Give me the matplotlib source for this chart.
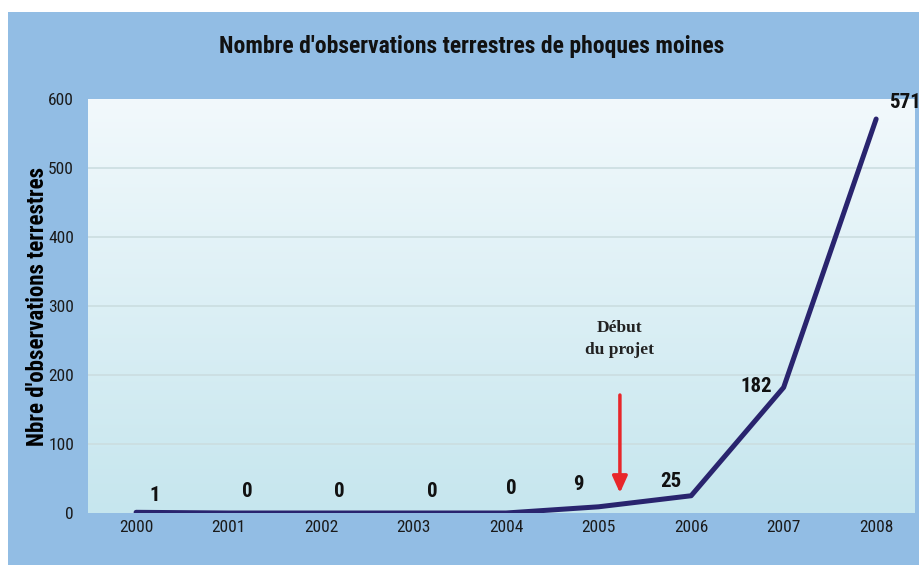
import matplotlib.pyplot as plt
import numpy as np
from matplotlib.patches import Rectangle

years = [2000, 2001, 2002, 2003, 2004, 2005, 2006, 2007, 2008]
counts = [1, 0, 0, 0, 0, 9, 25, 182, 571]
# label offsets in years / count units (labels sit beside the curve)
label_dx = [0.2, 0.2, 0.2, 0.2, 0.06, -0.22, -0.22, -0.3, 0.31]
label_y = [26, 31, 31, 31, 36, 42, 45, 183, 595]
yticks = [0, 100, 200, 300, 400, 500, 600]
project_start = 2005.23

narrow = ["Roboto Condensed", "DejaVu Sans"]

fig = plt.figure(figsize=(9.2, 5.65), dpi=100)
fig.patch.set_facecolor("white")
fig.patches.append(Rectangle((8 / 920, 0), 1, 1 - 12 / 565, transform=fig.transFigure,
                             facecolor="#92bde4", edgecolor="none", zorder=-10))

ax = fig.add_axes([88 / 920, 52 / 565, 827 / 920, 414 / 565])
ax.set_xlim(1999.48, 2008.42)
ax.set_ylim(0, 600)

# vertical gradient background of the plot area
grad = np.linspace(0, 1, 256).reshape(-1, 1)
top = np.array([0xf2, 0xf9, 0xfc]) / 255
bot = np.array([0xc6, 0xe6, 0xee]) / 255
img = bot + (top - bot) * grad[..., None]
ax.imshow(img, extent=[1999.48, 2008.42, 0, 600], origin="lower", aspect="auto", zorder=0)

for v in yticks[1:-1]:
    ax.axhline(v, color="#cbdde0", lw=1.2, zorder=1)

ax.plot(years, counts, color="#29246e", lw=3.6, solid_capstyle="round", zorder=3)

for x, dx, ly, c in zip(years, label_dx, label_y, counts):
    ax.text(x + dx, ly, str(c), ha="center", va="center", fontsize=15,
            fontweight="bold", family=narrow, color="#111111", zorder=4)

ax.text(project_start, 252, "Début\ndu projet", ha="center", va="center",
        fontsize=12.5, fontweight="bold", family="Liberation Serif", color="#222222",
        linespacing=1.45, zorder=4)
ax.annotate("", xy=(project_start, 25), xytext=(project_start, 175),
            arrowprops=dict(arrowstyle="-|>,head_width=0.45,head_length=1.0",
                            color="#e8262a", lw=2.5), zorder=4)

ax.set_xticks(years)
ax.set_xticklabels([str(y) for y in years], family=narrow, fontsize=12.5, color="#1a1a1a")
ax.set_yticks(yticks)
ax.set_yticklabels([str(v) for v in yticks], family=narrow, fontsize=12.5, color="#1a1a1a")
ax.tick_params(length=0)
ax.tick_params(axis="x", pad=5)
ax.tick_params(axis="y", pad=10)
for s in ax.spines.values():
    s.set_visible(False)

ax.set_ylabel("Nbre d'observations terrestres", family=narrow, fontsize=16.5,
              fontweight="bold")
ax.yaxis.set_label_coords(-0.047, 0.5)
fig.text(472 / 920, 1 - 47 / 565, "Nombre d'observations terrestres de phoques moines",
         ha="center", va="center", family=narrow, fontsize=17, fontweight="bold",
         color="#111111")

fig.savefig("out.png", dpi=100)
